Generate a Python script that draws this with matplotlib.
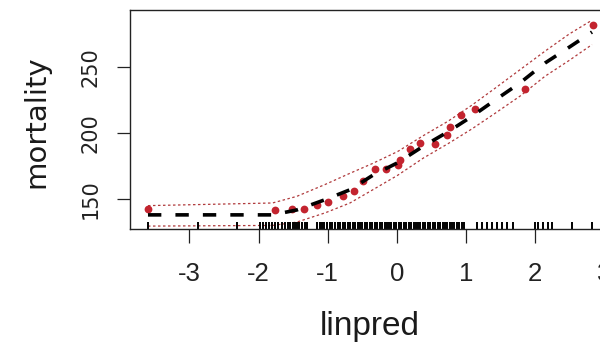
import matplotlib
matplotlib.use('Agg')
import matplotlib.pyplot as plt

# observed points (linpred, mortality)
pt_x = [-3.60, -1.76, -1.52, -1.34, -1.16, -1.00, -0.78, -0.62, -0.49, -0.32,
        -0.16, 0.01, 0.04, 0.19, 0.33, 0.55, 0.72, 0.77, 0.92, 1.13, 1.85, 2.83]
pt_y = [142.4, 141.7, 142.4, 142.4, 145.5, 147.7, 152.0, 156.0, 163.6, 173.0,
        172.7, 176.0, 179.5, 187.6, 192.4, 192.0, 198.5, 204.5, 213.6, 218.0, 233.0, 282.2]

# fitted curve and its band
fit_x = [-3.60, -1.80, -1.45, -1.04, -0.68, -0.35, 0.01, 0.38, 0.74, 1.08, 1.42, 1.78, 2.14, 2.49, 2.82]
fit_y = [138.0, 138.0, 141.7, 149.5, 157.0, 168.0, 177.5, 190.0, 201.0, 212.5, 225.0, 238.0, 253.0, 265.0, 276.5]
upper = [145.0, 147.0, 152.0, 161.0, 169.5, 177.0, 186.0, 198.0, 209.0, 221.0, 234.0, 248.0, 262.0, 275.0, 285.5]
lower = [129.5, 130.0, 132.5, 139.5, 147.0, 157.0, 168.0, 181.0, 192.0, 203.0, 215.0, 228.0, 243.0, 255.0, 267.0]

# rug of linpred values
rug_x = [-3.60, -2.87, -2.31,
         -1.98, -1.93, -1.90, -1.85, -1.81, -1.77, -1.72, -1.66, -1.62, -1.58, -1.55, -1.51,
         -1.48, -1.45, -1.41, -1.37, -1.33, -1.30,
         -1.16, -1.12, -1.08, -1.05, -1.01, -0.97, -0.94, -0.90, -0.85, -0.82, -0.78, -0.75,
         -0.71, -0.68, -0.64, -0.60, -0.57, -0.53, -0.50, -0.46, -0.43, -0.39, -0.36, -0.32,
         -0.29, -0.25, -0.22, -0.18, -0.15, -0.11, -0.08, -0.04, -0.01, 0.03, 0.06, 0.10,
         0.13, 0.17, 0.20, 0.24, 0.27, 0.31, 0.34, 0.38, 0.41, 0.45, 0.48, 0.52, 0.55, 0.59,
         0.62, 0.66, 0.69, 0.73, 0.76, 0.80, 0.83, 0.87, 0.90, 0.94, 0.97,
         1.16, 1.23, 1.30, 1.37, 1.45, 1.52, 1.59, 1.68,
         1.99, 2.04, 2.11, 2.18, 2.24, 2.53, 2.82]

x_ticks = [-3, -2, -1, 0, 1, 2, 3]
y_ticks = [150, 200, 250]

narrow = ['Liberation Sans Narrow', 'Liberation Sans', 'DejaVu Sans']
wide = ['DejaVu Sans']

fig = plt.figure(figsize=(6, 3.43), dpi=100)
# axes runs past the right edge, as in the cropped original
ax = fig.add_axes([130 / 600, 114 / 343, 480 / 600, 219 / 343])
ax.set_xlim(-3.86, 3.08)
ax.set_ylim(127.3, 293.2)

ax.plot(fit_x, upper, color='#b03a3c', lw=0.9, linestyle=(0, (2, 2)))
ax.plot(fit_x, lower, color='#b03a3c', lw=0.9, linestyle=(0, (2, 2)))
ax.plot(pt_x, pt_y, 'o', color='#c3242f', markersize=5.6, markeredgewidth=0)
ax.plot(fit_x, fit_y, color='black', lw=2.6, linestyle=(0, (3.7, 3.9)))
ax.vlines(rug_x, 0, 0.032, color='black', lw=1.4, transform=ax.get_xaxis_transform())

for s in ax.spines.values():
    s.set_linewidth(1.0)
    s.set_color('#222222')

ax.set_xticks(x_ticks)
ax.set_yticks(y_ticks)
ax.set_xticklabels([str(v) for v in x_ticks])
ax.set_yticklabels([str(v) for v in y_ticks])
ax.tick_params(axis='x', length=10, width=0.9, pad=14, color='#222222')
ax.tick_params(axis='y', length=9.4, width=0.9, pad=12, color='#222222')
for lab in ax.get_xticklabels():
    lab.set_family(narrow)
    lab.set_fontsize(18.5)
    lab.set_color('#222222')
for lab in ax.get_yticklabels():
    lab.set_family(wide)
    lab.set_fontsize(15)
    lab.set_rotation(90)
    lab.set_va('center')
    lab.set_color('#222222')

fig.text(370 / 600, 1 - 335 / 343, 'linpred', ha='center', va='baseline',
         fontsize=24, family=narrow, color='#1a1a1a')
fig.text(36 / 600, 1 - 121.5 / 343, 'mortality', ha='center', va='center',
         rotation=90, fontsize=21, family=wide, color='#1a1a1a')

fig.savefig('out.png', dpi=100, facecolor='white')
